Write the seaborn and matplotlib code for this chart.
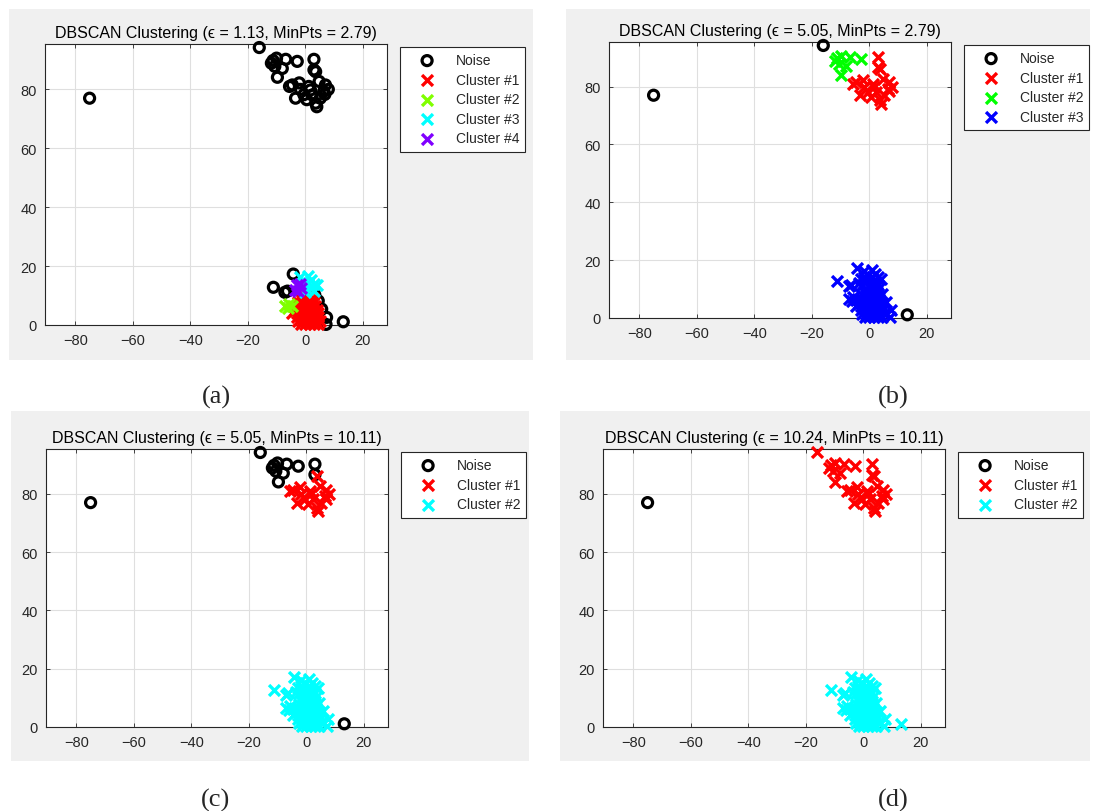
import matplotlib
matplotlib.use("Agg")
import matplotlib.pyplot as plt
from matplotlib.patches import Rectangle
import seaborn as sns

# ---- data ----
# far-left outlier, noise in every panel
far_x = [-75.0]
far_y = [77.0]

# topmost point of the upper group
peak_x = [-16.0]
peak_y = [94.2]

# upper group, left part
upleft_x = [-11.2, -10.0, -11.8, -10.6, -6.8, -8.0, -9.7, -2.8]
upleft_y = [89.8, 90.6, 88.9, 87.8, 90.2, 87.1, 84.1, 89.5]

# upper group, two points at x~3
upmid_x = [3.0, 3.0]
upmid_y = [90.2, 86.6]

# upper group, main body
upmain_x = [3.6, -4.5, -1.7, -3.4, 1.2, 3.6, 6.4, 7.0, 4.8, -0.5, 2.4, 5.2, 4.0,
            1.8, -5.5, -2.1, 6.8, 8.0, 0.5]
upmain_y = [86.0, 81.5, 80.0, 77.0, 81.0, 75.3, 79.3, 81.5, 82.7, 78.2, 78.1, 77.0, 74.1,
            79.8, 81.0, 82.2, 78.3, 80.0, 76.5]

# lower group, dense body
low_x = [-1.5, 0.0, 1.5, 3.0, 4.5,
         -2.5, -1.0, 0.5, 2.0, 3.5, 5.0,
         -3.0, -1.5, 0.0, 1.5, 3.0, 4.5,
         -4.5, -3.0, -1.5, 0.0, 1.5, 3.0, 4.5,
         -3.5, -2.0, -0.5, 1.0, 2.5, 4.0,
         -2.5, -1.0, 0.5, 2.0, 3.5,
         -2.5, -1.0, 0.5, 2.0, 3.0,
         -2.0, -0.5, 1.0, 2.5,
         -1.0, 0.5]
low_y = [0.3, 0.3, 0.3, 0.3, 0.3,
         1.5, 1.5, 1.5, 1.5, 1.5, 1.5,
         2.8, 2.8, 2.8, 2.8, 2.8, 2.8,
         4.0, 4.0, 4.0, 4.0, 4.0, 4.0, 4.0,
         5.2, 5.2, 5.2, 5.2, 5.2, 5.2,
         6.5, 6.5, 6.5, 6.5, 6.5,
         7.8, 7.8, 7.8, 7.8, 7.8,
         9.0, 9.0, 9.0, 9.0,
         10.0, 10.0]

# lower group, small left patch
lowleft_x = [-7.0, -5.5, -4.5, -6.0]
lowleft_y = [6.5, 7.2, 6.3, 5.8]

# lower group, patch at top-left of the body
lowpatch_x = [-3.0, -2.5, -3.5, -2.0, -1.5]
lowpatch_y = [13.5, 11.5, 12.0, 14.0, 12.5]

# lower group, top part
lowtop_x = [-2.0, -0.5, 1.0, 2.0, 3.0, -1.0, 0.5, 2.0, 3.0, 1.0, 4.0, 0.0]
lowtop_y = [16.2, 15.0, 14.2, 15.2, 14.0, 13.5, 12.2, 12.5, 11.5, 16.5, 13.5, 11.2]

# lower group, border points
lowedge_x = [-4.2, -11.1, -7.1, -6.2, 3.3, 4.5, 5.7, 7.4, 7.2]
lowedge_y = [17.3, 12.8, 11.1, 11.5, 10.2, 8.2, 5.4, 2.6, 0.2]

# right outlier near the bottom
right_x = [13.2]
right_y = [1.1]

groups = {
    "far": (far_x, far_y), "peak": (peak_x, peak_y), "upleft": (upleft_x, upleft_y),
    "upmid": (upmid_x, upmid_y), "upmain": (upmain_x, upmain_y), "low": (low_x, low_y),
    "lowleft": (lowleft_x, lowleft_y), "lowpatch": (lowpatch_x, lowpatch_y),
    "lowtop": (lowtop_x, lowtop_y), "lowedge": (lowedge_x, lowedge_y),
    "right": (right_x, right_y),
}

# cluster label of each group per panel (0 = noise)
panels = [
    dict(eps="1.13", minpts="2.79", tag="(a)",
         colors=["#ff0000", "#80ff00", "#00ffff", "#8000ff"],
         labels=dict(far=0, peak=0, upleft=0, upmid=0, upmain=0, low=1, lowleft=2,
                     lowtop=3, lowpatch=4, lowedge=0, right=0)),
    dict(eps="5.05", minpts="2.79", tag="(b)",
         colors=["#ff0000", "#00ff00", "#0000ff"],
         labels=dict(far=0, peak=0, upleft=2, upmid=1, upmain=1, low=3, lowleft=3,
                     lowtop=3, lowpatch=3, lowedge=3, right=0)),
    dict(eps="5.05", minpts="10.11", tag="(c)",
         colors=["#ff0000", "#00ffff"],
         labels=dict(far=0, peak=0, upleft=0, upmid=0, upmain=1, low=2, lowleft=2,
                     lowtop=2, lowpatch=2, lowedge=2, right=0)),
    dict(eps="10.24", minpts="10.11", tag="(d)",
         colors=["#ff0000", "#00ffff"],
         labels=dict(far=0, peak=1, upleft=1, upmid=1, upmain=1, low=2, lowleft=2,
                     lowtop=2, lowpatch=2, lowedge=2, right=2)),
]

x_ticks = [-80, -60, -40, -20, 0, 20]
y_ticks = [0, 20, 40, 60, 80]

# ---- layout (pixels of the 1093x812 canvas) ----
W, H = 1093, 812
bg_boxes = [(9, 10, 533, 361), (566, 10, 1090, 361), (11, 412, 529, 762), (560, 412, 1090, 762)]
ax_boxes = [(45, 45, 387, 326), (609, 43, 951, 319), (46, 450, 388, 728), (603, 450, 945, 728)]
tag_pos = [(216, 397), (893, 397), (216, 800), (893, 800)]

sns.set_theme(style="white")
plt.rcParams["font.family"] = ["Liberation Sans", "DejaVu Sans"]
ink = "#262626"

fig = plt.figure(figsize=(W / 100, H / 100), dpi=100)
fig.patch.set_facecolor("white")

for bg in bg_boxes:
    x0, y0, x1, y1 = bg
    fig.add_artist(Rectangle((x0 / W, 1 - y1 / H), (x1 - x0) / W, (y1 - y0) / H,
                             transform=fig.transFigure, facecolor="#f0f0f0",
                             edgecolor="none", zorder=0))

for p, box, tp in zip(panels, ax_boxes, tag_pos):
    l, t, r, b = box
    ax = fig.add_axes([l / W, 1 - b / H, (r - l) / W, (b - t) / H])
    ax.set_facecolor("white")

    pts = {}
    for name, lab in p["labels"].items():
        gx, gy = groups[name]
        px, py = pts.setdefault(lab, ([], []))
        px.extend(gx)
        py.extend(gy)

    nx, ny = pts[0]
    sns.scatterplot(x=nx, y=ny, ax=ax, marker="o", s=52, color="black",
                    facecolor="none", edgecolor="black", linewidth=2.3,
                    label="Noise", clip_on=False, zorder=3)
    for k, c in enumerate(p["colors"], start=1):
        cx, cy = pts[k]
        sns.scatterplot(x=cx, y=cy, ax=ax, marker="x", s=62, color=c,
                        linewidth=2.4, label=f"Cluster #{k}", clip_on=False, zorder=3)

    ax.set_xlim(-90.5, 28.4)
    ax.set_ylim(0, 95.4)
    ax.set_xticks(x_ticks)
    ax.set_yticks(y_ticks)
    ax.grid(True, color="#dfdfdf", linewidth=0.8)
    ax.set_axisbelow(True)
    ax.tick_params(direction="in", length=3, width=0.6, color=ink, labelcolor=ink,
                   labelsize=10.5, pad=6, bottom=True, left=True, top=True, right=True,
                   labeltop=False, labelright=False)
    for sp in ax.spines.values():
        sp.set_color(ink)
        sp.set_linewidth(0.8)
        sp.set_visible(True)
    ax.set_xlabel("")
    ax.set_ylabel("")
    ax.set_title(f"DBSCAN Clustering (\u03f5 = {p['eps']}, MinPts = {p['minpts']})",
                 fontsize=11.5, color="black", pad=5)

    leg = ax.legend(loc="upper left", bbox_to_anchor=(1 + 13 / (r - l), 1 - 3 / (b - t)),
                    borderaxespad=0, fontsize=10, handlelength=3.0, handletextpad=0.55,
                    borderpad=0.45, labelspacing=0.4, fancybox=False, framealpha=1,
                    edgecolor=ink, facecolor="white")
    leg.get_frame().set_linewidth(0.8)
    for txt in leg.get_texts():
        txt.set_color(ink)

    fig.text(tp[0] / W, 1 - tp[1] / H, p["tag"], ha="center", va="center",
             fontsize=19, family=["Liberation Serif", "DejaVu Serif"])

fig.savefig("out.png", dpi=100)
